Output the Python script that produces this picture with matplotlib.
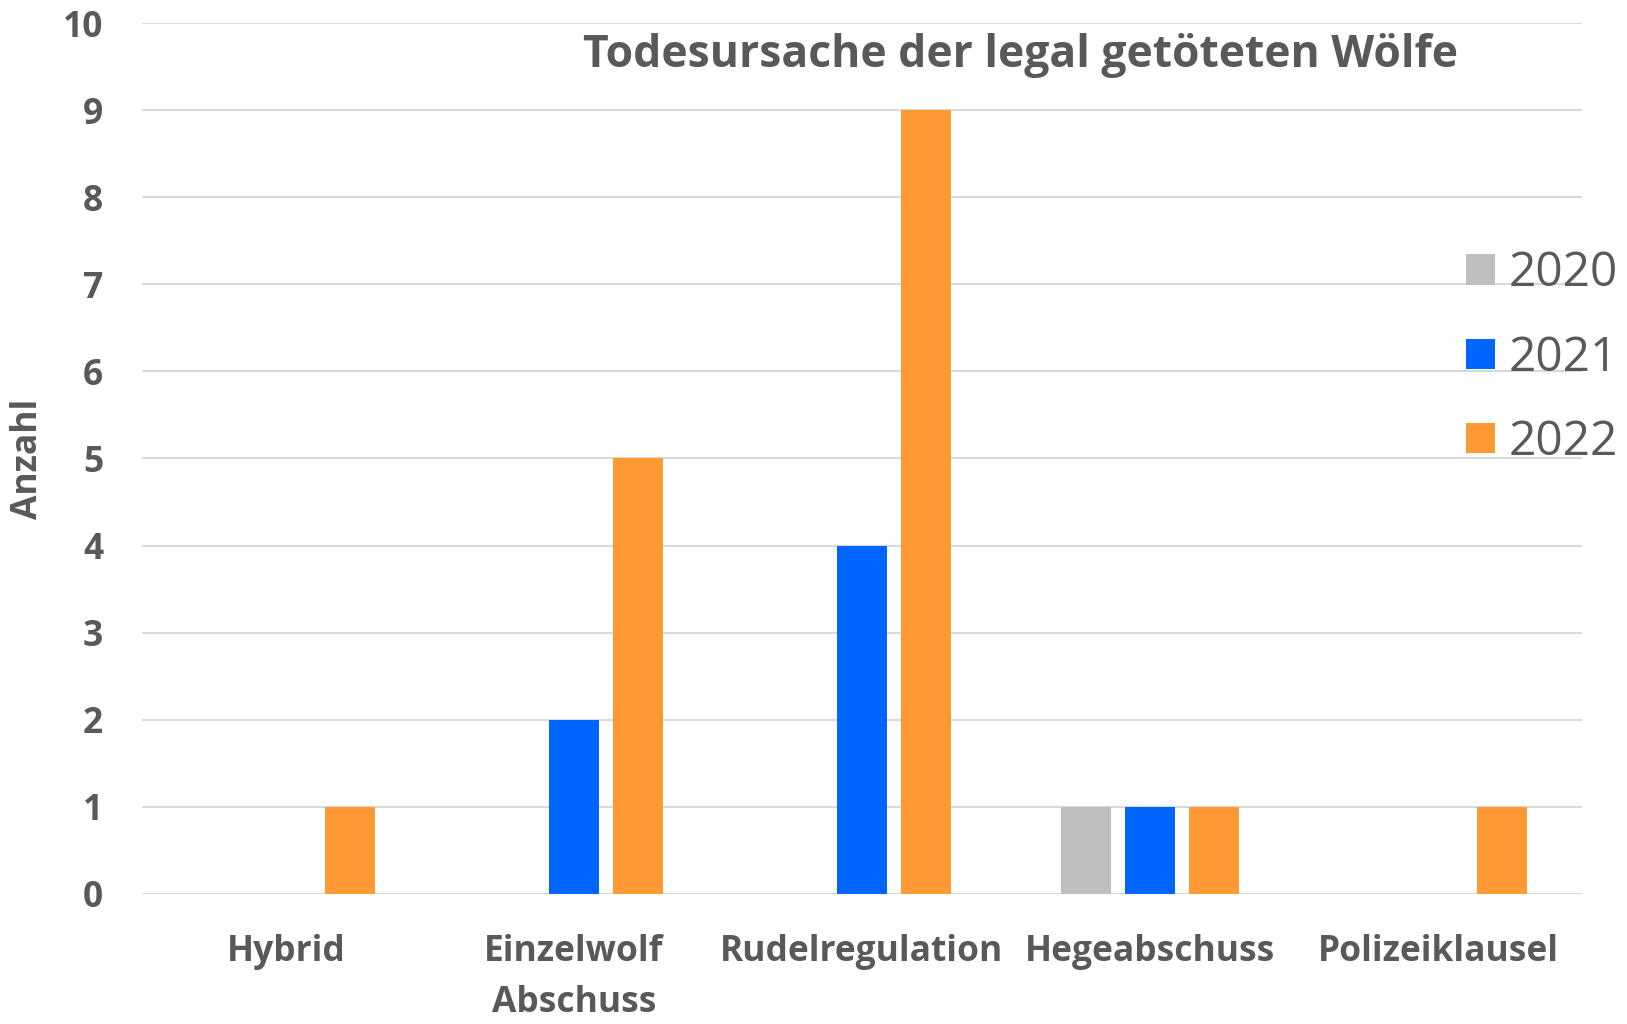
import matplotlib.pyplot as plt
import numpy as np
from matplotlib.patches import Patch

# Daten
kategorien = ['Hybrid', 'Einzelwolf\nAbschuss', 'Rudelregulation', 'Hegeabschuss', 'Polizeiklausel']
jahre = ['2020', '2021', '2022']
werte_2020 = [0, 0, 0, 1, 0]
werte_2021 = [0, 2, 4, 1, 0]
werte_2022 = [1, 5, 9, 1, 1]

farben = ['#BFBFBF', '#0066FF', '#FF9933']
grau = '#595959'

plt.rcParams['font.family'] = ['Open Sans', 'DejaVu Sans']

fig = plt.figure(figsize=(16.27, 10.24), dpi=100)
ax = fig.add_axes([0.0873, 0.127, 0.885, 0.8505])

x = np.arange(len(kategorien))
breite = 0.173
abstand = 0.2215
for i, werte in enumerate([werte_2020, werte_2021, werte_2022]):
    ax.bar(x + (i - 1) * abstand, werte, width=breite, color=farben[i], zorder=3)

ax.set_xlim(-0.5, len(kategorien) - 0.5)
ax.set_ylim(0, 10)
ax.set_yticks(range(0, 11))
ax.set_xticks(x)
ax.set_xticklabels(kategorien, linespacing=1.55)

ax.grid(axis='y', color='#D9D9D9', linewidth=1.5, zorder=0)
for s in ax.spines.values():
    s.set_visible(False)
ax.tick_params(axis='both', length=0, labelcolor=grau, labelsize=25.5)
ax.tick_params(axis='y', pad=28)
ax.tick_params(axis='x', pad=29)
for lab in ax.get_xticklabels() + ax.get_yticklabels():
    lab.set_fontweight('bold')

fig.text(0.017, 0.552, 'Anzahl', rotation=90, ha='center', va='center',
         fontsize=25.5, fontweight='bold', color=grau)
fig.text(0.627, 0.946, 'Todesursache der legal getöteten Wölfe', ha='center', va='center',
         fontsize=32, fontweight='bold', color=grau)

handles = [Patch(facecolor=farben[i], label=jahre[i]) for i in range(3)]
leg = fig.legend(handles=handles, loc='upper left', bbox_to_anchor=(0.901, 0.756),
                 frameon=False, fontsize=34.5, handlelength=0.6, handleheight=0.6,
                 handletextpad=0.3, labelspacing=0.77, borderpad=0, borderaxespad=0)
for t in leg.get_texts():
    t.set_color(grau)

fig.savefig('out.png', dpi=100)
